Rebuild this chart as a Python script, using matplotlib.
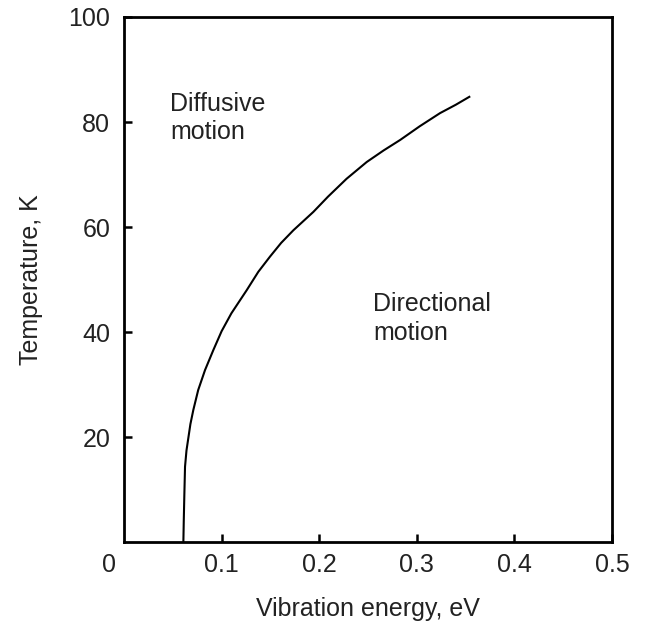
import matplotlib.pyplot as plt

plt.rcParams['font.family'] = ['Liberation Sans', 'DejaVu Sans']

# boundary between diffusive and directional motion
energy = [0.0608, 0.0612, 0.0618, 0.0625, 0.064, 0.066, 0.068, 0.071, 0.076,
          0.083, 0.0915, 0.100, 0.110, 0.1257, 0.1376, 0.1496, 0.161, 0.1735,
          0.194, 0.209, 0.228, 0.2487, 0.266, 0.283, 0.303, 0.3238, 0.340, 0.3538]
temperature = [0, 4, 9, 14.4, 17.5, 20, 22.5, 25.2, 29.0,
               32.8, 36.6, 40.2, 43.6, 48.0, 51.5, 54.4, 57.0, 59.4,
               62.9, 65.8, 69.2, 72.4, 74.6, 76.6, 79.2, 81.7, 83.3, 84.8]

x_ticks = [0.1, 0.2, 0.3, 0.4, 0.5]
y_ticks = [20, 40, 60, 80, 100]

fig = plt.figure(figsize=(6.47, 6.24), dpi=100)
ax = fig.add_axes([0.1917, 0.1308, 0.7542, 0.842])

ax.plot(energy, temperature, color='black', lw=1.5)

ax.set_xlim(0, 0.5)
ax.set_ylim(0, 100)
ax.set_xticks(x_ticks)
ax.set_xticklabels([str(t) for t in x_ticks])
ax.set_yticks(y_ticks)
ax.tick_params(direction='in', length=6, width=1.8, labelsize=18,
               colors='black', labelcolor='#222222')
ax.tick_params(axis='x', pad=8)
ax.tick_params(axis='y', pad=10)
for s in ax.spines.values():
    s.set_linewidth(2)

ax.text(-0.03, -0.043, '0', transform=ax.transAxes, ha='center', va='center',
        fontsize=18, color='#222222')

ax.set_xlabel('Vibration energy, eV', fontsize=18, color='#222222', labelpad=14)
ax.set_ylabel('Temperature, K', fontsize=18, color='#222222', labelpad=18)

ax.text(0.047, 80.7, 'Diffusive\nmotion', fontsize=18, color='#222222',
        va='center', ha='left', linespacing=1.22)
ax.text(0.255, 42.6, 'Directional\nmotion', fontsize=18, color='#222222',
        va='center', ha='left', linespacing=1.22)

plt.savefig('out.png', dpi=100)
